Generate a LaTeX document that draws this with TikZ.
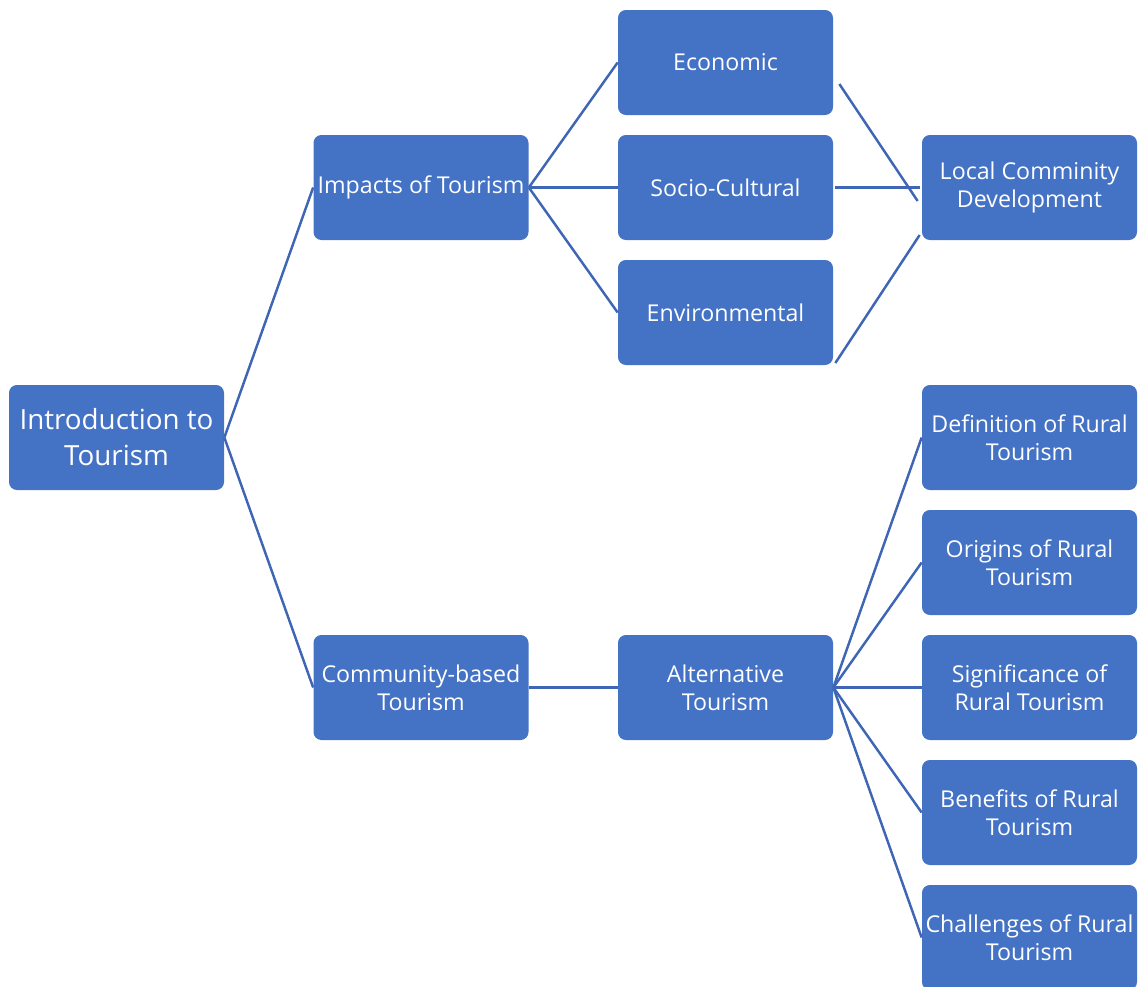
\documentclass[tikz,border=0pt]{standalone}
\usepackage{fontspec}
\setmainfont{Open Sans}
\definecolor{boxblue}{HTML}{4472C4}
\definecolor{lineblue}{HTML}{3E66B4}
\tikzset{
  topic/.style = {
    fill=boxblue, text=white, rounded corners=4.5pt,
    minimum width=4.3cm, minimum height=2.1cm, align=center,
    inner sep=0.5pt, font=\fontsize{13.2}{16}\selectfont
  },
  link/.style = {draw=lineblue, line width=1.4pt}
}

\begin{document}
\begin{tikzpicture}
  \pgfmathsetmacro{\colA}{2.33}
  \pgfmathsetmacro{\colB}{8.42}
  \pgfmathsetmacro{\colC}{14.51}
  \pgfmathsetmacro{\colD}{20.59}
  \useasboundingbox (0,0) rectangle (22.82,-19.74);
  % root
  \node[topic,font=\fontsize{15.8}{20.4}\selectfont] (intro) at (\colA,-8.75) {Introduction to\\Tourism};
  % second column
  \node[topic] (impacts) at (\colB,-3.75) {Impacts of Tourism};
  \node[topic] (cbt) at (\colB,-13.75) {Community-based\\Tourism};
  % impacts
  \node[topic] (economic) at (\colC,-1.25) {Economic};
  \node[topic] (socio) at (\colC,-3.75) {Socio-Cultural};
  \node[topic] (environ) at (\colC,-6.25) {Environmental};
  \node[topic] (local) at (\colD,-3.75) {Local Comminity\\Development};
  % alternative tourism
  \node[topic] (alt) at (\colC,-13.75) {Alternative\\Tourism};
  \draw[link] (intro.east) -- (impacts.west);
  \draw[link] (intro.east) -- (cbt.west);
  \draw[link] (cbt.east) -- (alt.west);
  \foreach \kid in {economic,socio,environ}
    \draw[link] (impacts.east) -- (\kid.west);
  % into local development
  \coordinate (ecoOut) at ([shift={(0.12,-0.43)}]economic.east);
  \coordinate (ecoIn) at ([shift={(-0.08,-0.27)}]local.west);
  \coordinate (envOut) at ([shift={(0.04,-1.01)}]environ.east);
  \coordinate (envIn) at ([shift={(-0.04,-0.95)}]local.west);
  \draw[link] (ecoOut) -- (ecoIn);
  \draw[link] ([xshift=0.04cm]socio.east) -- ([xshift=-0.04cm]local.west);
  \draw[link] (envOut) -- (envIn);
  % rural tourism
  \foreach \name/\txt [count=\i from 0] in {
      def/{Definition of Rural\\Tourism},
      origin/{Origins of Rural\\Tourism},
      signif/{Significance of\\Rural Tourism},
      benefit/{Benefits of Rural\\Tourism},
      challenge/{Challenges of Rural\\Tourism}} {
    \node[topic] (\name) at (\colD,-8.75-2.5*\i) {\txt};
    \draw[link] (alt.east) -- (\name.west);
  }
\end{tikzpicture}
\end{document}
